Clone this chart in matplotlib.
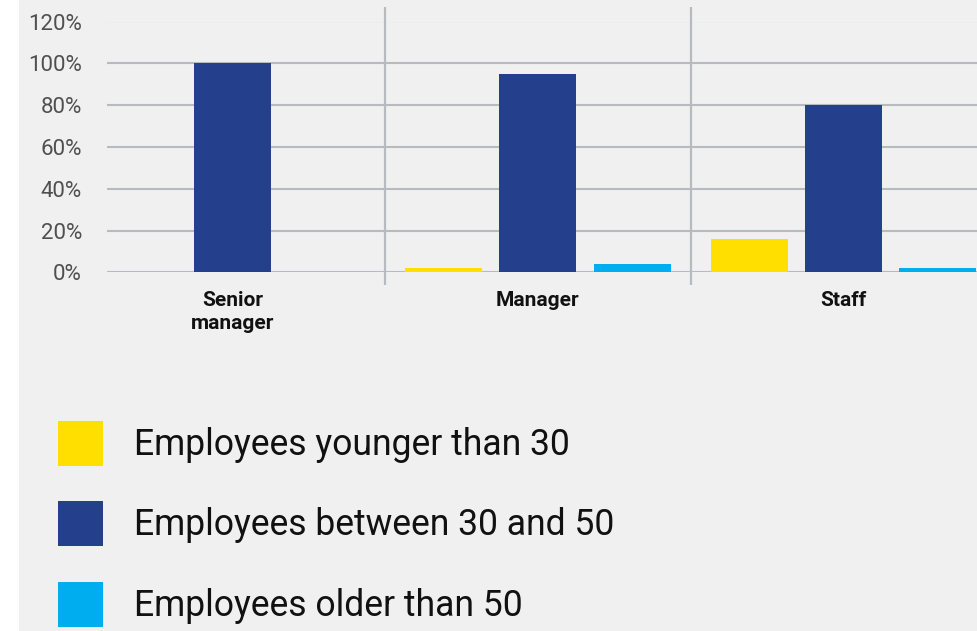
import matplotlib
matplotlib.use("Agg")
import matplotlib.pyplot as plt
from matplotlib.patches import Patch, Rectangle
import numpy as np

categories = ["Senior\nmanager", "Manager", "Staff"]
series_names = ["Employees younger than 30", "Employees between 30 and 50", "Employees older than 50"]
under_30 = [0, 2, 16]
between_30_50 = [100, 95, 80]
over_50 = [0, 4, 2]
yticks = [0, 20, 40, 60, 80, 100, 120]
ytick_labels = ["0%", "20%", "40%", "60%", "80%", "100%", "120%"]
colors = ["#FFDF00", "#243F8C", "#00AEEF"]

W, H = 978, 631
fig = plt.figure(figsize=(W / 100, H / 100), dpi=100, facecolor="white")
fig.patches.append(Rectangle((19 / W, 0), 1 - 19 / W, 1, transform=fig.transFigure,
                             facecolor="#F0F0F0", edgecolor="none", zorder=-10))

ax_left, ax_right = 107, 978
ax_top, ax_bottom = 21.5, 272.5
ax = fig.add_axes([ax_left / W, 1 - ax_bottom / H, (ax_right - ax_left) / W, (ax_bottom - ax_top) / H])
ax.set_facecolor("none")

x = np.arange(len(categories))
bw = 0.252
off = 0.309
for i, (vals, c) in enumerate(zip([under_30, between_30_50, over_50], colors)):
    ax.bar(x + (i - 1) * off, vals, width=bw, color=c, edgecolor="none", zorder=3,
           label=series_names[i])

ax.set_ylim(0, 120)
ax.set_xlim(-0.41, 2.44)
ax.set_yticks(yticks)
ax.set_yticklabels(ytick_labels)
ax.yaxis.grid(True, color="#B7BABE", linewidth=1.5, zorder=0)
ax.set_axisbelow(True)
for s in ax.spines.values():
    s.set_visible(False)
ax.tick_params(axis="y", length=0, pad=18, labelsize=16, labelcolor="#505050")
for lab in ax.get_yticklabels():
    lab.set_fontfamily("Roboto")
    lab.set_fontweight("normal")
ax.set_xticks(x)
ax.set_xticklabels(categories, fontsize=15, fontweight="bold", fontfamily="Roboto",
                   linespacing=1.3, va="top", color="#111111")
ax.tick_params(axis="x", length=0, pad=13)

# category separators
ax.vlines([0.5, 1.5], -6, 127, colors="#B7BABE", linewidth=1.6, clip_on=False, zorder=1)

handles = [Patch(facecolor=c, edgecolor="none") for c in colors]
leg = fig.legend(handles, series_names, loc="upper left",
                 bbox_to_anchor=(58 / W, 1 - 421 / H), frameon=False,
                 prop={"family": "Roboto", "size": 25.6},
                 handlelength=1.268, handleheight=1.574, handletextpad=0.873,
                 labelspacing=0.99, borderaxespad=0, borderpad=0)
for t in leg.get_texts():
    t.set_color("#111111")

fig.savefig("out.png", dpi=100, facecolor=fig.get_facecolor())
